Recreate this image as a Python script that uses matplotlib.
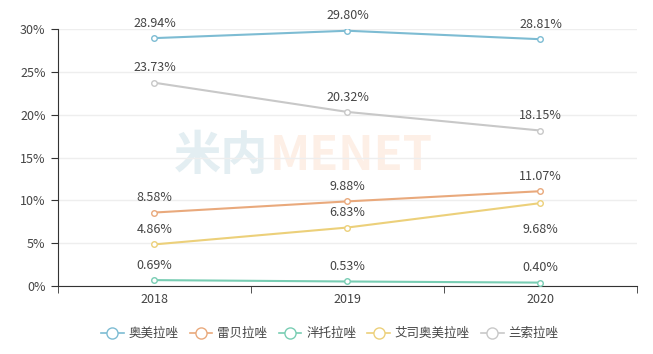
import matplotlib

matplotlib.use('Agg')
import matplotlib.pyplot as plt
from matplotlib.lines import Line2D

plt.rcParams['font.family'] = ['Noto Sans CJK SC', 'DejaVu Sans']

years = ['2018', '2019', '2020']
names = ['奥美拉唑', '雷贝拉唑', '泮托拉唑', '艾司奥美拉唑', '兰索拉唑']
omeprazole = [28.94, 29.80, 28.81]
rabeprazole = [8.58, 9.88, 11.07]
pantoprazole = [0.69, 0.53, 0.40]
esomeprazole = [4.86, 6.83, 9.68]
lansoprazole = [23.73, 20.32, 18.15]
series = [omeprazole, rabeprazole, pantoprazole, esomeprazole, lansoprazole]
colors = ['#7dbcd3', '#e9a97c', '#78cdb3', '#ecd07a', '#c8c8c8']
yticks = [0, 5, 10, 15, 20, 25, 30]

fig = plt.figure(figsize=(6.53, 3.54), dpi=100)
ax = fig.add_axes([0.0888, 0.192, 0.8867, 0.726])

x = list(range(len(years)))
for vals, col, name in zip(series, colors, names):
    ax.plot(x, vals, color=col, linewidth=1.5, marker='o', markersize=4,
            markerfacecolor='white', markeredgecolor=col, markeredgewidth=1,
            zorder=3)
    for i, v in enumerate(vals):
        below = (vals is esomeprazole and i == 2)
        off = -14 if below else 6
        ax.annotate(f'{v:.2f}%', (i, v), xytext=(0, off),
                    textcoords='offset points', ha='center',
                    va='top' if below else 'bottom',
                    fontsize=9, color='#444444')

# faint watermark
ax.text(0.364, 0.505, '米内', transform=ax.transAxes, fontsize=34,
        color='#e3eef2', ha='right', va='center', fontweight='bold', zorder=0)
ax.text(0.366, 0.505, 'MENET', transform=ax.transAxes, fontsize=34,
        color='#fdefe6', ha='left', va='center', fontweight='bold', zorder=0)

ax.set_xlim(-0.5, 2.5)
ax.set_ylim(0, 30)
ax.set_yticks(yticks)
ax.set_yticklabels([f'{t}%' for t in yticks])
ax.set_xticks(x)
ax.set_xticklabels(years)
ax.set_xticks([-0.5, 0.5, 1.5, 2.5], minor=True)
ax.tick_params(axis='x', which='major', length=0, pad=5)
ax.tick_params(axis='x', which='minor', length=5, color='#333333')
ax.tick_params(axis='y', length=5, color='#333333', pad=4)
ax.tick_params(labelsize=9, labelcolor='#444444')
ax.grid(axis='y', color='#eeeeee', linewidth=1, zorder=0)
ax.set_axisbelow(True)
for side in ['top', 'right']:
    ax.spines[side].set_visible(False)
for side in ['left', 'bottom']:
    ax.spines[side].set_color('#333333')

handles = [Line2D([], [], color=c, linewidth=1.2, marker='o', markersize=8,
                  markerfacecolor='white', markeredgecolor=c)
           for c in colors]
fig.legend(handles, names, loc='center', bbox_to_anchor=(0.505, 0.058),
           ncol=5, frameon=False, fontsize=9, handlelength=1.8,
           handletextpad=0.4, columnspacing=0.9, labelcolor='#444444')

fig.savefig('out.png')
